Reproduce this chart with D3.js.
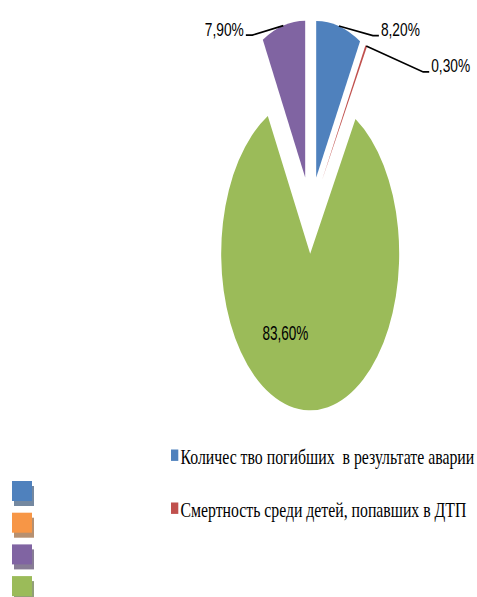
<!doctype html>
<html lang="ru">
<head>
    <meta charset="utf-8">
    <title>pie</title>
    <script src="https://d3js.org/d3.v7.min.js"></script>
    <style>
        body { margin: 0; background: #fff; }
    </style>
</head>
<body>
<svg width="477" height="597"></svg>
<script>
    // chart data
    var categories = ["Количес тво погибших  в результате аварии", "Смертность среди детей, попавших в ДТП", "", ""];
    var values = [8.2, 0.3, 83.6, 7.9];
    var valueLabels = ["8,20%", "0,30%", "83,60%", "7,90%"];
    var sliceColors = ["#4F81BD", "#C0504D", "#9BBB59", "#8064A2"];
    var sideColors = ["#4F81BD", "#F79646", "#8064A2", "#9BBB59"];

    // layout
    var svg = d3.select("svg");
    var cx = 310.6, cy = 215, r = 89, sy = 1.76, explode = 22;
    var sansFont = "'Liberation Sans', Arial, sans-serif";
    var serifFont = "'Liberation Serif', 'Times New Roman', serif";
    // leader elbow offsets from the slice edge, null = label inside the slice
    var leaders = [[34, 9.5, 6], [57, 26, 6], null, [-31, 9.5, -6.5]];

    var pie = d3.pie().sort(null).value(function (d) { return d; });
    var arcs = pie(values);
    var arc = d3.arc().innerRadius(0).outerRadius(r);

    function mid(d) { return (d.startAngle + d.endAngle) / 2; }
    function shift(d) {
        var a = mid(d);
        return [explode * Math.sin(a), -explode * Math.cos(a)];
    }
    // point in page coordinates from a point in circle space
    function toPage(p) { return [cx + p[0], cy + p[1] * sy]; }

    // text that is as wide as w at its natural size, then stretched up to a cap height
    function fitText(t, x, y, w, cap, capRatio) {
        t.attr("font-size", 20);
        var natural = t.node().getComputedTextLength();
        var size = 20 * w / natural;
        t.attr("font-size", size);
        var k = cap / (capRatio * size);
        t.attr("transform", "translate(" + x + "," + y + ") scale(1," + k + ")");
    }

    var g = svg.append("g")
        .attr("transform", "translate(" + cx + "," + cy + ") scale(1," + sy + ")");

    g.selectAll("path")
        .data(arcs)
        .enter().append("path")
        .attr("transform", function (d) { return "translate(" + shift(d) + ")"; })
        .attr("d", arc)
        .attr("fill", function (d, i) { return sliceColors[i]; });

    // data labels
    arcs.forEach(function (d, i) {
        var s = shift(d), a = mid(d);
        var L = leaders[i];
        var t;
        if (L === null) {
            var c = arc.centroid(d);
            var p = toPage([c[0] + s[0], c[1] + s[1]]);
            t = svg.append("text")
                .attr("font-family", sansFont)
                .attr("text-anchor", "middle")
                .text(valueLabels[i]);
            fitText(t, p[0] - 24, p[1] + 8, 46, 15, 0.716);
            return;
        }
        var edge = toPage([s[0] + r * Math.sin(a), s[1] - r * Math.cos(a)]);
        var elbow = [edge[0] + L[0], edge[1] + L[1]];
        var tail = [elbow[0] + L[2], elbow[1]];
        svg.append("path")
            .attr("d", d3.line()([edge, elbow, tail]))
            .attr("fill", "none")
            .attr("stroke", "#000")
            .attr("stroke-width", 1.6);
        t = svg.append("text")
            .attr("font-family", sansFont)
            .attr("text-anchor", L[2] > 0 ? "start" : "end")
            .text(valueLabels[i]);
        fitText(t, tail[0] + (L[2] > 0 ? 2 : -2), tail[1] + 0.5, 39, 12.7, 0.716);
    });

    // legend with names
    var named = categories.filter(function (c) { return c !== ""; });
    var textWidths = [294, 286];
    var legend = svg.selectAll(".legend")
        .data(named)
        .enter().append("g")
        .attr("class", "legend")
        .attr("transform", function (d, i) { return "translate(171," + (449.5 + i * 53) + ")"; });

    legend.append("rect")
        .attr("width", 7.3)
        .attr("height", 11.4)
        .attr("fill", function (d, i) { return sliceColors[i]; });

    legend.append("text")
        .attr("font-family", serifFont)
        .style("white-space", "pre")
        .text(function (d) { return d; })
        .each(function (d, i) {
            fitText(d3.select(this), 9.5, 14.6, textWidths[i], 13.5, 0.662);
        });

    // unnamed squares on the left, with shadows
    var side = svg.append("g").attr("transform", "translate(12,481)");
    sideColors.forEach(function (c, i) {
        side.append("rect")
            .attr("x", 2).attr("y", i * 31.7 + 5)
            .attr("width", 20).attr("height", 20)
            .attr("fill", d3.interpolateRgb(c, "#8c8c8c")(0.6));
        side.append("rect")
            .attr("x", 0).attr("y", i * 31.7)
            .attr("width", 20).attr("height", 20)
            .attr("fill", c);
    });
</script>
</body>
</html>
